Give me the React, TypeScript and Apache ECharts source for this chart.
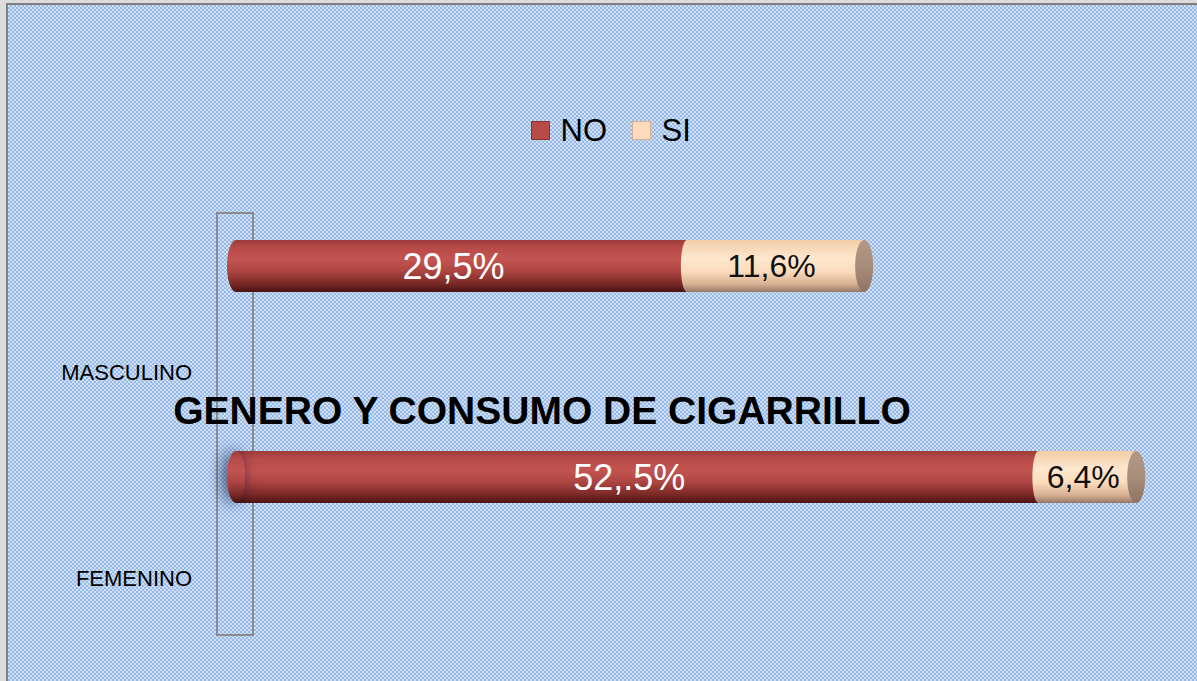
import React, { useEffect, useRef } from "react";
import * as echarts from "echarts";

const categories = ["MASCULINO", "FEMENINO"];
const seriesNames = ["NO", "SI"];
const noValues = [29.5, 52.5];
const siValues = [11.6, 6.4];
const noLabels = ["29,5%", "52,.5%"];
const siLabels = ["11,6%", "6,4%"];
const titleText = "GENERO Y CONSUMO DE CIGARRILLO";

const FONT = "'Liberation Sans', Arial, sans-serif";

const redGrad = () =>
  new echarts.graphic.LinearGradient(0, 0, 0, 1, [
    { offset: 0, color: "#9c3d3b" },
    { offset: 0.15, color: "#b84b48" },
    { offset: 0.38, color: "#c25451" },
    { offset: 0.6, color: "#ad4542" },
    { offset: 0.85, color: "#772725" },
    { offset: 1, color: "#481312" },
  ]);

const tanGrad = () =>
  new echarts.graphic.LinearGradient(0, 0, 0, 1, [
    { offset: 0, color: "#f3cda7" },
    { offset: 0.35, color: "#fde7ce" },
    { offset: 0.6, color: "#fbddbd" },
    { offset: 0.85, color: "#d7af92" },
    { offset: 1, color: "#967867" },
  ]);

export default function App() {
  const ref = useRef<HTMLDivElement>(null);

  useEffect(() => {
    document.body.style.margin = "0";
    if (!ref.current) return;
    const chart = echarts.init(ref.current, null, { renderer: "svg" });
    const BAR_H = 52;

    const capData = categories.map((_, i) => [i, noValues[i], siValues[i]]);

    chart.setOption({
      animation: false,
      backgroundColor: "transparent",
      title: {
        text: titleText,
        left: 542,
        top: 391,
        textAlign: "center",
        padding: 0,
        textStyle: {
          fontFamily: FONT,
          fontSize: 39,
          fontWeight: "bold",
          color: "#000000",
        },
      },
      legend: {
        left: 531,
        top: 115,
        padding: 0,
        itemWidth: 18,
        itemHeight: 18,
        itemGap: 25,
        icon: "rect",
        data: [
          { name: seriesNames[0], itemStyle: { color: "#b84b48", borderColor: "#8a3331", borderWidth: 1 } },
          { name: seriesNames[1], itemStyle: { color: "#fcdcbc", borderColor: "#d8b08f", borderWidth: 1 } },
        ],
        textStyle: {
          fontFamily: FONT,
          fontSize: 31,
          color: "#000000",
          padding: [0, 0, 0, 6],
        },
      },
      grid: [
        { left: 236, right: 44, top: 160.5, bottom: 98.5, containLabel: false },
        { left: 236, right: 44, top: 269.5, bottom: -10.5, containLabel: false },
      ],
      xAxis: [
        { type: "value", gridIndex: 0, min: 0, max: 60, show: false },
        { type: "value", gridIndex: 1, min: 0, max: 60, show: false },
      ],
      yAxis: [
        {
          type: "category",
          gridIndex: 0,
          data: categories,
          inverse: true,
          axisLine: { show: false },
          axisTick: { show: false },
          splitLine: { show: false },
          axisLabel: { show: false },
        },
        {
          type: "category",
          gridIndex: 1,
          data: categories,
          inverse: true,
          axisLine: { show: false },
          axisTick: { show: false },
          splitLine: { show: false },
          axisLabel: {
            fontFamily: FONT,
            fontSize: 22,
            color: "#000000",
            margin: 44,
          },
        },
      ],
      graphic: [
        {
          type: "rect",
          z: 1,
          shape: { x: 217, y: 213, width: 36, height: 422 },
          style: { fill: "none", stroke: "#8c8c8c", lineWidth: 2 },
        },
      ],
      series: [
        {
          name: seriesNames[0],
          type: "bar",
          stack: "total",
          barWidth: BAR_H,
          z: 3,
          data: noValues,
          itemStyle: { color: redGrad() },
          label: {
            show: true,
            position: "inside",
            offset: [-8, 0],
            formatter: (p: any) => noLabels[p.dataIndex],
            fontFamily: FONT,
            fontSize: 36,
            color: "#ffffff",
          },
        },
        {
          name: seriesNames[1],
          type: "bar",
          stack: "total",
          barWidth: BAR_H,
          z: 3,
          data: siValues,
          itemStyle: { color: tanGrad() },
          label: {
            show: true,
            position: "inside",
            offset: [-4, 0],
            formatter: (p: any) => siLabels[p.dataIndex],
            fontFamily: FONT,
            fontSize: 32,
            color: "#111111",
          },
        },
        {
          type: "custom",
          z: 4,
          silent: true,
          data: capData,
          encode: { x: [1, 2], y: 0 },
          renderItem: (params: any, api: any) => {
            const cat = api.value(0);
            const no = api.value(1);
            const si = api.value(2);
            const start = api.coord([0, cat]);
            const mid = api.coord([no, cat]);
            const end = api.coord([no + si, cat]);
            const ry = BAR_H / 2;
            const shadow =
              params.dataIndex === 1
                ? { shadowBlur: 16, shadowColor: "rgba(20,30,70,0.75)", shadowOffsetX: -4 }
                : {};
            return {
              type: "group",
              children: [
                {
                  type: "ellipse",
                  shape: { cx: start[0], cy: start[1], rx: 9, ry },
                  style: { fill: redGrad(), ...shadow },
                },
                {
                  type: "ellipse",
                  shape: { cx: mid[0], cy: mid[1], rx: 6, ry },
                  style: { fill: tanGrad() },
                },
                {
                  type: "ellipse",
                  shape: { cx: end[0], cy: end[1], rx: 9, ry },
                  style: {
                    fill: new echarts.graphic.LinearGradient(0, 0, 0, 1, [
                      { offset: 0, color: "#b39886" },
                      { offset: 0.5, color: "#a88d7b" },
                      { offset: 1, color: "#8f7463" },
                    ]),
                  },
                },
              ],
            };
          },
        },
      ],
    });

    return () => chart.dispose();
  }, []);

  return (
    <div
      style={{
        position: "relative",
        width: 1197,
        height: 681,
        overflow: "hidden",
        background: "#dcdcdc",
      }}
    >
      <div
        style={{
          position: "absolute",
          left: 6,
          top: 3,
          width: 1200,
          height: 690,
          borderLeft: "2px solid #7f7f7f",
          borderTop: "2px solid #7f7f7f",
          background:
            "repeating-conic-gradient(#97b9e5 0 25%, #d0e0f2 0 50%) 0 0 / 4px 4px",
        }}
      />
      <div
        ref={ref}
        style={{ position: "absolute", left: 0, top: 0, width: 1197, height: 681 }}
      />
    </div>
  );
}
